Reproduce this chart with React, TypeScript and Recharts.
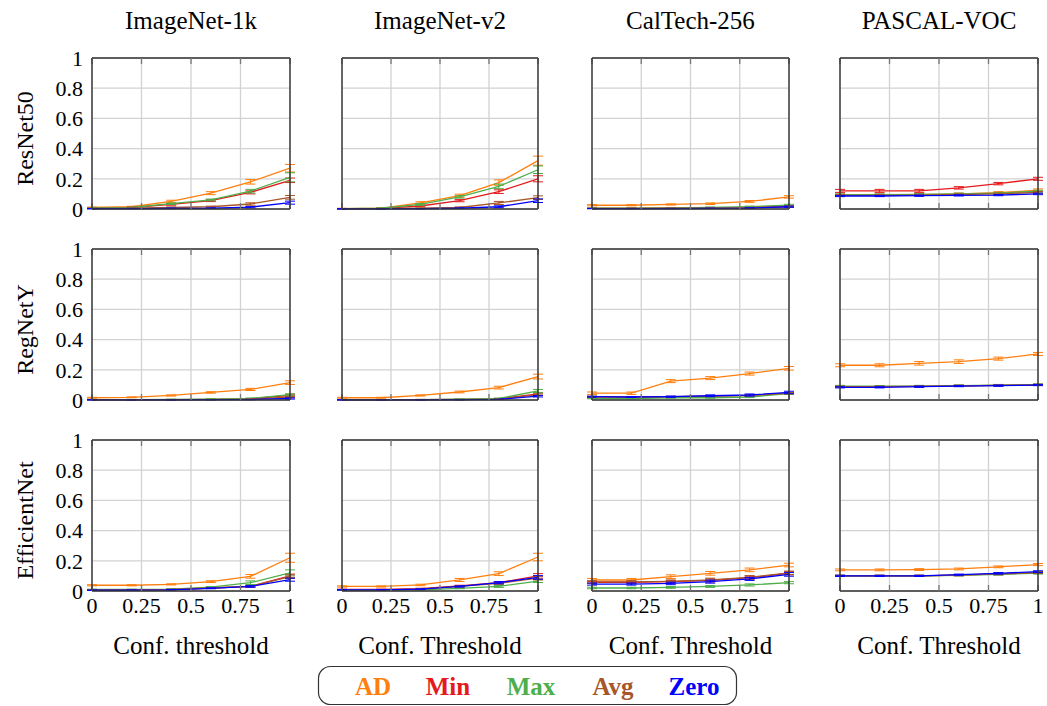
import React from 'react';
import { LineChart, Line, XAxis, YAxis, CartesianGrid, ErrorBar } from 'recharts';

const X = [0, 0.2, 0.4, 0.6, 0.8, 1];
const X_TICKS = [0, 0.25, 0.5, 0.75, 1];
const Y_TICKS = [0, 0.2, 0.4, 0.6, 0.8, 1];
const COL_TITLES = ['ImageNet-1k', 'ImageNet-v2', 'CalTech-256', 'PASCAL-VOC'];
const X_LABELS = ['Conf. threshold', 'Conf. Threshold', 'Conf. Threshold', 'Conf. Threshold'];
const ROW_TITLES = ['ResNet50', 'RegNetY', 'EfficientNet'];
const SERIES = ['AD', 'Min', 'Max', 'Avg', 'Zero'];
const COLORS: Record<string, string> = {
  AD: '#ff7f0e',
  Min: '#e41a1c',
  Max: '#4daf4a',
  Avg: '#a65628',
  Zero: '#0000ff',
};

// ResNet50
const r50_in1k = {
  AD: [0.01, 0.015, 0.05, 0.105, 0.18, 0.27],
  Min: [0.005, 0.01, 0.03, 0.055, 0.11, 0.19],
  Max: [0.005, 0.01, 0.035, 0.06, 0.118, 0.21],
  Avg: [0.003, 0.005, 0.01, 0.015, 0.033, 0.077],
  Zero: [0.002, 0.003, 0.004, 0.005, 0.012, 0.042],
};
const r50_in1k_err = {
  AD: [0.003, 0.003, 0.008, 0.01, 0.015, 0.025],
  Min: [0.002, 0.002, 0.005, 0.006, 0.01, 0.015],
  Max: [0.002, 0.002, 0.005, 0.006, 0.012, 0.03],
  Avg: [0.001, 0.001, 0.003, 0.004, 0.008, 0.012],
  Zero: [0.001, 0.001, 0.002, 0.002, 0.004, 0.01],
};
const r50_inv2 = {
  AD: [0.003, 0.006, 0.04, 0.088, 0.175, 0.32],
  Min: [0.002, 0.004, 0.02, 0.055, 0.115, 0.2],
  Max: [0.002, 0.005, 0.03, 0.08, 0.15, 0.26],
  Avg: [0.001, 0.002, 0.005, 0.01, 0.04, 0.075],
  Zero: [0.001, 0.001, 0.002, 0.005, 0.015, 0.055],
};
const r50_inv2_err = {
  AD: [0.002, 0.003, 0.008, 0.01, 0.018, 0.03],
  Min: [0.001, 0.002, 0.005, 0.007, 0.012, 0.02],
  Max: [0.001, 0.002, 0.006, 0.008, 0.015, 0.025],
  Avg: [0.001, 0.001, 0.002, 0.004, 0.01, 0.012],
  Zero: [0.001, 0.001, 0.001, 0.002, 0.006, 0.012],
};
const r50_cal = {
  AD: [0.025, 0.025, 0.03, 0.035, 0.05, 0.08],
  Min: [0.004, 0.004, 0.005, 0.006, 0.008, 0.015],
  Max: [0.005, 0.005, 0.007, 0.01, 0.015, 0.025],
  Avg: [0.004, 0.004, 0.005, 0.006, 0.009, 0.018],
  Zero: [0.003, 0.003, 0.003, 0.004, 0.006, 0.015],
};
const r50_cal_err = {
  AD: [0.004, 0.004, 0.004, 0.005, 0.006, 0.008],
  Min: [0.001, 0.001, 0.001, 0.002, 0.002, 0.004],
  Max: [0.001, 0.001, 0.002, 0.003, 0.004, 0.006],
  Avg: [0.001, 0.001, 0.001, 0.002, 0.002, 0.004],
  Zero: [0.001, 0.001, 0.001, 0.001, 0.002, 0.004],
};
const r50_voc = {
  AD: [0.093, 0.093, 0.095, 0.1, 0.108, 0.125],
  Min: [0.12, 0.12, 0.12, 0.14, 0.168, 0.2],
  Max: [0.095, 0.095, 0.097, 0.1, 0.105, 0.118],
  Avg: [0.09, 0.09, 0.092, 0.095, 0.1, 0.11],
  Zero: [0.086, 0.086, 0.088, 0.09, 0.092, 0.1],
};
const r50_voc_err = {
  AD: [0.006, 0.006, 0.006, 0.006, 0.007, 0.008],
  Min: [0.01, 0.01, 0.01, 0.008, 0.008, 0.01],
  Max: [0.005, 0.005, 0.005, 0.005, 0.005, 0.006],
  Avg: [0.005, 0.005, 0.005, 0.005, 0.005, 0.006],
  Zero: [0.004, 0.004, 0.004, 0.004, 0.004, 0.005],
};

// RegNetY
const rgy_in1k = {
  AD: [0.015, 0.018, 0.03, 0.05, 0.07, 0.115],
  Min: [0.002, 0.002, 0.003, 0.004, 0.008, 0.03],
  Max: [0.003, 0.003, 0.004, 0.006, 0.01, 0.035],
  Avg: [0.002, 0.002, 0.002, 0.003, 0.006, 0.02],
  Zero: [0.001, 0.001, 0.001, 0.002, 0.003, 0.01],
};
const rgy_in1k_err = {
  AD: [0.003, 0.003, 0.004, 0.005, 0.007, 0.012],
  Min: [0.001, 0.001, 0.001, 0.001, 0.002, 0.008],
  Max: [0.001, 0.001, 0.001, 0.002, 0.003, 0.006],
  Avg: [0.001, 0.001, 0.001, 0.001, 0.002, 0.005],
  Zero: [0.001, 0.001, 0.001, 0.001, 0.001, 0.004],
};
const rgy_inv2 = {
  AD: [0.015, 0.015, 0.03, 0.053, 0.082, 0.155],
  Min: [0.002, 0.002, 0.003, 0.004, 0.008, 0.04],
  Max: [0.002, 0.002, 0.003, 0.005, 0.01, 0.06],
  Avg: [0.001, 0.001, 0.002, 0.003, 0.006, 0.035],
  Zero: [0.001, 0.001, 0.001, 0.002, 0.004, 0.025],
};
const rgy_inv2_err = {
  AD: [0.003, 0.003, 0.004, 0.006, 0.009, 0.016],
  Min: [0.001, 0.001, 0.001, 0.001, 0.002, 0.008],
  Max: [0.001, 0.001, 0.001, 0.002, 0.003, 0.01],
  Avg: [0.001, 0.001, 0.001, 0.001, 0.002, 0.006],
  Zero: [0.001, 0.001, 0.001, 0.001, 0.001, 0.005],
};
const rgy_cal = {
  AD: [0.045, 0.045, 0.125, 0.145, 0.175, 0.21],
  Min: [0.02, 0.02, 0.02, 0.025, 0.03, 0.045],
  Max: [0.01, 0.01, 0.015, 0.015, 0.02, 0.042],
  Avg: [0.022, 0.02, 0.022, 0.026, 0.03, 0.045],
  Zero: [0.022, 0.02, 0.022, 0.028, 0.033, 0.05],
};
const rgy_cal_err = {
  AD: [0.008, 0.008, 0.01, 0.01, 0.01, 0.012],
  Min: [0.003, 0.003, 0.003, 0.004, 0.004, 0.005],
  Max: [0.002, 0.002, 0.003, 0.003, 0.004, 0.005],
  Avg: [0.003, 0.003, 0.003, 0.004, 0.004, 0.005],
  Zero: [0.003, 0.003, 0.004, 0.006, 0.007, 0.008],
};
const rgy_voc = {
  AD: [0.23, 0.23, 0.243, 0.254, 0.274, 0.305],
  Min: [0.088, 0.088, 0.09, 0.094, 0.097, 0.1],
  Max: [0.092, 0.091, 0.092, 0.095, 0.098, 0.102],
  Avg: [0.088, 0.088, 0.09, 0.094, 0.097, 0.1],
  Zero: [0.084, 0.084, 0.088, 0.092, 0.095, 0.099],
};
const rgy_voc_err = {
  AD: [0.01, 0.01, 0.012, 0.012, 0.01, 0.01],
  Min: [0.004, 0.004, 0.004, 0.004, 0.004, 0.004],
  Max: [0.005, 0.005, 0.005, 0.005, 0.005, 0.005],
  Avg: [0.004, 0.004, 0.004, 0.004, 0.004, 0.004],
  Zero: [0.004, 0.004, 0.004, 0.004, 0.004, 0.004],
};

// EfficientNet
const eff_in1k = {
  AD: [0.038, 0.038, 0.044, 0.062, 0.097, 0.22],
  Min: [0.008, 0.008, 0.01, 0.02, 0.03, 0.1],
  Max: [0.01, 0.01, 0.012, 0.025, 0.055, 0.12],
  Avg: [0.008, 0.008, 0.01, 0.02, 0.03, 0.095],
  Zero: [0.005, 0.005, 0.008, 0.018, 0.03, 0.075],
};
const eff_in1k_err = {
  AD: [0.004, 0.004, 0.004, 0.006, 0.012, 0.03],
  Min: [0.002, 0.002, 0.002, 0.003, 0.005, 0.012],
  Max: [0.002, 0.002, 0.003, 0.004, 0.012, 0.02],
  Avg: [0.002, 0.002, 0.002, 0.003, 0.005, 0.012],
  Zero: [0.001, 0.001, 0.002, 0.003, 0.005, 0.01],
};
const eff_inv2 = {
  AD: [0.03, 0.03, 0.04, 0.073, 0.115, 0.225],
  Min: [0.01, 0.01, 0.015, 0.033, 0.055, 0.1],
  Max: [0.005, 0.005, 0.008, 0.018, 0.03, 0.066],
  Avg: [0.008, 0.008, 0.012, 0.03, 0.05, 0.085],
  Zero: [0.008, 0.008, 0.012, 0.03, 0.055, 0.09],
};
const eff_inv2_err = {
  AD: [0.004, 0.004, 0.005, 0.01, 0.012, 0.025],
  Min: [0.002, 0.002, 0.003, 0.005, 0.007, 0.015],
  Max: [0.001, 0.001, 0.002, 0.003, 0.006, 0.01],
  Avg: [0.002, 0.002, 0.002, 0.004, 0.006, 0.012],
  Zero: [0.002, 0.002, 0.002, 0.004, 0.007, 0.012],
};
const eff_cal = {
  AD: [0.073, 0.073, 0.095, 0.117, 0.14, 0.172],
  Min: [0.058, 0.058, 0.062, 0.07, 0.088, 0.118],
  Max: [0.02, 0.02, 0.024, 0.03, 0.04, 0.055],
  Avg: [0.06, 0.06, 0.064, 0.073, 0.09, 0.12],
  Zero: [0.046, 0.046, 0.05, 0.062, 0.08, 0.11],
};
const eff_cal_err = {
  AD: [0.01, 0.01, 0.012, 0.012, 0.012, 0.012],
  Min: [0.008, 0.008, 0.008, 0.01, 0.01, 0.01],
  Max: [0.005, 0.005, 0.006, 0.006, 0.007, 0.007],
  Avg: [0.008, 0.008, 0.009, 0.012, 0.012, 0.012],
  Zero: [0.007, 0.007, 0.008, 0.01, 0.01, 0.012],
};
const eff_voc = {
  AD: [0.14, 0.14, 0.142, 0.146, 0.16, 0.175],
  Min: [0.1, 0.1, 0.1, 0.105, 0.113, 0.122],
  Max: [0.1, 0.1, 0.1, 0.104, 0.11, 0.118],
  Avg: [0.1, 0.1, 0.1, 0.105, 0.113, 0.122],
  Zero: [0.1, 0.1, 0.1, 0.108, 0.117, 0.128],
};
const eff_voc_err = {
  AD: [0.006, 0.006, 0.006, 0.006, 0.006, 0.007],
  Min: [0.004, 0.004, 0.004, 0.004, 0.005, 0.006],
  Max: [0.004, 0.004, 0.004, 0.004, 0.005, 0.006],
  Avg: [0.004, 0.004, 0.004, 0.004, 0.005, 0.006],
  Zero: [0.004, 0.004, 0.004, 0.004, 0.005, 0.006],
};

const VALUES = [
  [r50_in1k, r50_inv2, r50_cal, r50_voc],
  [rgy_in1k, rgy_inv2, rgy_cal, rgy_voc],
  [eff_in1k, eff_inv2, eff_cal, eff_voc],
];
const ERRORS = [
  [r50_in1k_err, r50_inv2_err, r50_cal_err, r50_voc_err],
  [rgy_in1k_err, rgy_inv2_err, rgy_cal_err, rgy_voc_err],
  [eff_in1k_err, eff_inv2_err, eff_cal_err, eff_voc_err],
];

const COL_LEFT = [92, 342, 592, 840];
const COL_W = [198, 196, 197, 198];
const ROW_TOP = [58, 249, 440];
const PLOT_H = 151;
const FONT = '"Liberation Serif", "DejaVu Serif", serif';
const FRAME = '#333';
const TICKC = '#777';

const NoTick = () => <g />;

function Panel({ r, c }: { r: number; c: number }) {
  const vals: any = VALUES[r][c];
  const errs: any = ERRORS[r][c];
  const data = X.map((x, i) => {
    const row: any = { x };
    SERIES.forEach((s) => {
      row[s] = vals[s][i];
      row[s + '_e'] = errs[s][i];
    });
    return row;
  });
  const padL = 90;
  const padT = 16;
  const padR = 10;
  const padB = 50;
  const width = padL + COL_W[c] + padR;
  const height = padT + PLOT_H + padB;
  const isBottom = r === 2;
  const isLeft = c === 0;
  const tickStyle = { fontFamily: FONT, fontSize: 22, fill: '#000' };
  return (
    <div style={{ position: 'absolute', left: COL_LEFT[c] - padL, top: ROW_TOP[r] - padT }}>
      <LineChart width={width} height={height} data={data} margin={{ top: padT, right: padR, bottom: 0, left: 0 }}>
        <CartesianGrid xAxisId="b" yAxisId="l" stroke="#d2d2d2" strokeWidth={1.3} />
        <XAxis
          xAxisId="b"
          dataKey="x"
          type="number"
          domain={[0, 1]}
          ticks={X_TICKS}
          interval={0}
          height={padB}
          axisLine={{ stroke: FRAME, strokeWidth: 1.4 }}
          tickLine={false}
          tickSize={4}
          tickMargin={2}
          tick={isBottom ? tickStyle : NoTick}
        />
        <XAxis
          xAxisId="bm"
          dataKey="x"
          type="number"
          domain={[0, 1]}
          ticks={X_TICKS}
          interval={0}
          mirror
          orientation="bottom"
          axisLine={false}
          tick={NoTick}
          tickLine={{ stroke: TICKC, strokeWidth: 1.3 }}
          tickSize={6}
        />
        <XAxis
          xAxisId="t"
          dataKey="x"
          type="number"
          domain={[0, 1]}
          ticks={X_TICKS}
          interval={0}
          mirror
          orientation="top"
          axisLine={{ stroke: FRAME, strokeWidth: 1.4 }}
          tick={NoTick}
          tickLine={{ stroke: TICKC, strokeWidth: 1.3 }}
          tickSize={6}
        />
        <YAxis
          yAxisId="l"
          type="number"
          domain={[0, 1]}
          ticks={Y_TICKS}
          interval={0}
          width={padL}
          axisLine={{ stroke: FRAME, strokeWidth: 1.4 }}
          tickLine={false}
          tickSize={4}
          tickMargin={5}
          tick={isLeft ? tickStyle : NoTick}
        />
        <YAxis
          yAxisId="lm"
          type="number"
          domain={[0, 1]}
          ticks={Y_TICKS}
          interval={0}
          mirror
          orientation="left"
          axisLine={false}
          tick={NoTick}
          tickLine={{ stroke: TICKC, strokeWidth: 1.3 }}
          tickSize={6}
        />
        <YAxis
          yAxisId="r"
          type="number"
          domain={[0, 1]}
          ticks={Y_TICKS}
          interval={0}
          mirror
          orientation="right"
          axisLine={{ stroke: FRAME, strokeWidth: 1.4 }}
          tick={NoTick}
          tickLine={{ stroke: TICKC, strokeWidth: 1.3 }}
          tickSize={6}
        />
        {SERIES.map((s) => (
          <Line
            key={s}
            xAxisId="b"
            yAxisId="l"
            type="linear"
            dataKey={s}
            stroke={COLORS[s]}
            strokeWidth={1.3}
            dot={false}
            isAnimationActive={false}
          >
            <ErrorBar dataKey={s + '_e'} direction="y" width={5} stroke={COLORS[s]} strokeWidth={1} />
          </Line>
        ))}
      </LineChart>
    </div>
  );
}

const LEGEND_X = [373, 448, 531, 613, 694];

export default function App() {
  const panels: React.ReactNode[] = [];
  for (let r = 0; r < 3; r++) for (let c = 0; c < 4; c++) panels.push(<Panel key={`${r}-${c}`} r={r} c={c} />);
  return (
    <div style={{ position: 'absolute', left: 0, top: 0, width: 1047, height: 706, background: '#fff', overflow: 'hidden' }}>
      {panels}
      <svg width={1047} height={706} style={{ position: 'absolute', left: 0, top: 0, pointerEvents: 'none' }}>
        {COL_TITLES.map((t, c) => (
          <text key={t} x={COL_LEFT[c] + COL_W[c] / 2} y={20} textAnchor="middle" dominantBaseline="central" fontFamily={FONT} fontSize={25} fill="#000">
            {t}
          </text>
        ))}
        {X_LABELS.map((t, c) => (
          <text key={c} x={COL_LEFT[c] + COL_W[c] / 2} y={645} textAnchor="middle" dominantBaseline="central" fontFamily={FONT} fontSize={25} fill="#000">
            {t}
          </text>
        ))}
        {ROW_TITLES.map((t, r) => {
          const cy = ROW_TOP[r] + PLOT_H / 2 + 5;
          return (
            <text key={t} x={0} y={0} transform={`translate(25 ${cy}) rotate(-90)`} textAnchor="middle" dominantBaseline="central" fontFamily={FONT} fontSize={24} fill="#000">
              {t}
            </text>
          );
        })}
        <rect x={318.5} y={666.5} width={418} height={38} rx={12} ry={12} fill="none" stroke="#333" strokeWidth={1.2} />
        {SERIES.map((s, i) => (
          <text key={s} x={LEGEND_X[i]} y={686} textAnchor="middle" dominantBaseline="central" fontFamily={FONT} fontSize={25} fontWeight="bold" fill={COLORS[s]}>
            {s}
          </text>
        ))}
      </svg>
    </div>
  );
}
